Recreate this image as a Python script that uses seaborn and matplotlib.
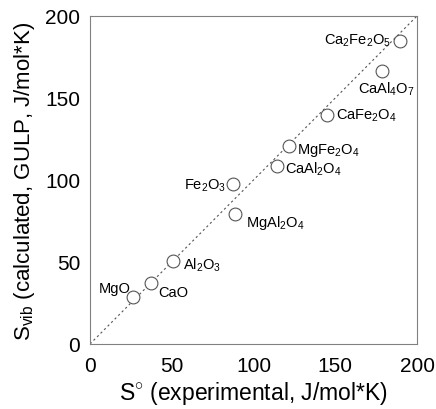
import matplotlib
matplotlib.use("Agg")
import matplotlib.pyplot as plt
import seaborn as sns
import pandas as pd

compounds = ["Ca$_2$Fe$_2$O$_5$", "CaAl$_4$O$_7$", "CaFe$_2$O$_4$", "MgFe$_2$O$_4$",
             "CaAl$_2$O$_4$", "Fe$_2$O$_3$", "MgAl$_2$O$_4$", "Al$_2$O$_3$", "CaO", "MgO"]
s_exp = [189.4, 178.3, 145.1, 122.0, 114.5, 87.3, 88.4, 50.9, 37.6, 26.4]
s_vib = [184.9, 166.2, 139.6, 120.9, 108.7, 97.4, 79.1, 50.6, 37.3, 28.9]
# label offsets in pixels (dx, dy), alignment
label_dx = [-9, 5, 9, 8, 8, -7, 11, 10, 7, -3]
label_dy = [1, -8, 0, -4, -3, -1, -8, -3, -9, 9]
label_ha = ["right", "center", "left", "left", "left", "right", "left", "left", "left", "right"]
label_va = ["center", "top", "center", "center", "center", "center", "center", "center", "center", "center"]

xticks = [0, 50, 100, 150, 200]
yticks = [0, 50, 100, 150, 200]

sns.set_style("white")
plt.rcParams["font.family"] = ["Liberation Sans", "DejaVu Sans"]
plt.rcParams["mathtext.fontset"] = "custom"
plt.rcParams["mathtext.rm"] = "Liberation Sans"
plt.rcParams["mathtext.it"] = "Liberation Sans"
plt.rcParams["mathtext.default"] = "rm"
plt.rcParams["text.color"] = "black"
plt.rcParams["axes.labelcolor"] = "black"
plt.rcParams["xtick.color"] = "black"
plt.rcParams["ytick.color"] = "black"

df = pd.DataFrame({"exp": s_exp, "vib": s_vib, "name": compounds})

fig = plt.figure(figsize=(4.36, 4.10), dpi=100)
ax = fig.add_axes([90 / 436, 1 - 345 / 410, 327 / 436, 328 / 410])

ax.plot([0, 200], [0, 200], linestyle=(0, (2, 2.5)), color="#555555", linewidth=0.8, zorder=1)
sns.scatterplot(data=df, x="exp", y="vib", ax=ax, s=85, facecolor="white",
                edgecolor="#555555", linewidth=0.8, marker="o", zorder=3)

px2pt = 0.72
for name, x, y, dx, dy, ha, va in zip(compounds, s_exp, s_vib, label_dx, label_dy, label_ha, label_va):
    ax.annotate(name, (x, y), xytext=(dx * px2pt, dy * px2pt), textcoords="offset points",
                ha=ha, va=va, fontsize=10.5, color="black")

ax.set_xlim(0, 200)
ax.set_ylim(0, 200)
ax.set_xticks(xticks)
ax.set_yticks(yticks)
ax.set_xticks(range(0, 201, 10), minor=True)
ax.tick_params(axis="x", which="major", direction="in", length=4, width=0.6, color="#888888",
               labelsize=15, pad=8.5, labelcolor="black")
ax.tick_params(axis="x", which="minor", direction="in", length=3, width=0.6, color="#888888")
ax.tick_params(axis="y", which="major", direction="out", length=3, width=0.6, color="#888888",
               labelsize=15, pad=4, labelcolor="black")
for sp in ax.spines.values():
    sp.set_color("#808080")
    sp.set_linewidth(0.8)

ax.set_xlabel("S$^{\\circ}$ (experimental, J/mol*K)", fontsize=16.5, labelpad=3)
ax.set_ylabel("S$_{\\mathrm{vib}}$ (calculated, GULP, J/mol*K)", fontsize=16, labelpad=6)

fig.savefig("out.png", dpi=100)
